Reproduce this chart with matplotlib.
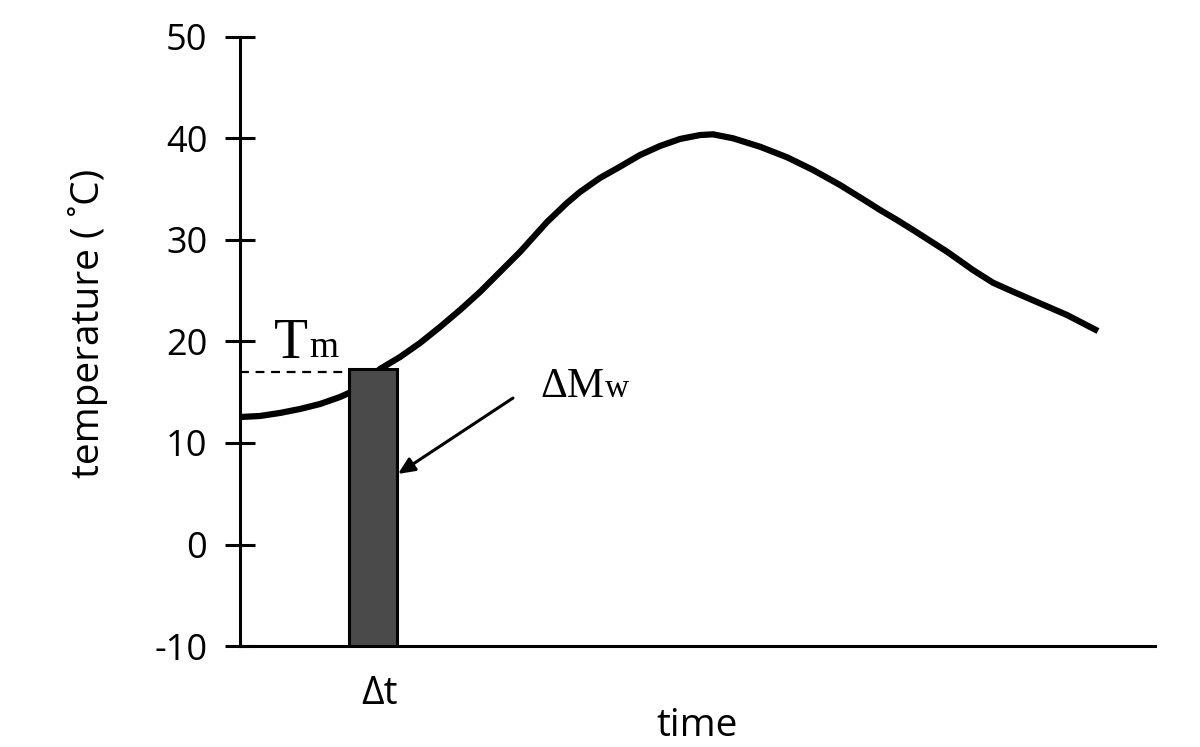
import matplotlib
matplotlib.use("Agg")
import matplotlib.pyplot as plt

plt.rcParams['font.family'] = ['Open Sans', 'DejaVu Sans']
plt.rcParams['axes.unicode_minus'] = False

# temperature curve (time in arbitrary units)
time = [0, 2, 4, 6, 8, 10, 12, 14, 16, 18, 20, 22, 24, 26, 28, 30.7, 32.7, 34,
        36, 38, 40, 42, 44, 46, 47.3, 49.3, 52, 54.7, 57.3, 60, 62.7, 64, 65.7,
        67.3, 70.7, 73.3, 75.3, 77.3, 80, 82.7, 85.8]
temperature = [12.56, 12.66, 12.96, 13.35, 13.84, 14.53, 15.42, 17.29, 18.47,
               19.85, 21.43, 23.10, 24.88, 26.85, 28.82, 31.77, 33.65, 34.73,
               36.11, 37.22, 38.37, 39.26, 39.95, 40.34, 40.41, 40.02, 39.19,
               38.15, 36.90, 35.42, 33.77, 32.96, 31.97, 30.99, 28.85, 27.04,
               25.79, 24.91, 23.76, 22.61, 21.03]

# melt bar
bar_left = 10.85
bar_right = 15.7
bar_top = 17.26
t_melt = 16.97

yticks = [-10, 0, 10, 20, 30, 40, 50]

fig = plt.figure(figsize=(12, 7.47), dpi=100)
ax = fig.add_axes([0.2, 0.1352, 0.7625, 0.8153])

ax.bar((bar_left + bar_right) / 2, bar_top + 10, width=bar_right - bar_left,
       bottom=-10, color="#4a4a4a", edgecolor="black", linewidth=2.2, zorder=3)
ax.plot(time, temperature, color="black", lw=4.5, solid_joinstyle="round",
        solid_capstyle="butt", zorder=2)
ax.plot([0, bar_left], [t_melt, t_melt], color="black", lw=1.6, ls=(0, (4, 3)))

serif = "Liberation Serif"
tT = ax.text(3.4, 18.37, "T", family=serif, fontsize=40, va="baseline")
ax.annotate("m", xy=(1, 0), xycoords=tT, xytext=(1, 3.5), textcoords="offset points",
            family=serif, fontsize=27, va="bottom")
tM = ax.text(30.0, 14.53, "ΔM", family=serif, fontsize=30, va="baseline")
ax.annotate("w", xy=(1, 0), xycoords=tM, xytext=(1, 1.5), textcoords="offset points",
            family=serif, fontsize=24, va="bottom")
ax.annotate("", xy=(15.8, 6.95), xytext=(27.3, 14.43),
            arrowprops=dict(arrowstyle="-|>,head_length=1.0,head_width=0.45",
                            color="black", lw=2.2, shrinkA=0, shrinkB=0))
ax.text(14.0, -12.9, "Δt", fontsize=28, ha="center", va="top")

ax.set_xlim(0, 91.5)
ax.set_ylim(-10, 50)
ax.set_yticks(yticks)
ax.set_xticks([])
ax.spines["top"].set_visible(False)
ax.spines["right"].set_visible(False)
ax.spines["left"].set_linewidth(2.2)
ax.spines["bottom"].set_linewidth(2.2)
ax.tick_params(axis="y", direction="inout", length=21, width=2.2, pad=13,
               labelsize=26)
ax.set_xlabel("time", fontsize=28, labelpad=44)
ax.set_ylabel("temperature ( ˚C)", fontsize=28)
ax.yaxis.set_label_coords(-0.144, 0.53)

fig.savefig("out.png", dpi=100)
